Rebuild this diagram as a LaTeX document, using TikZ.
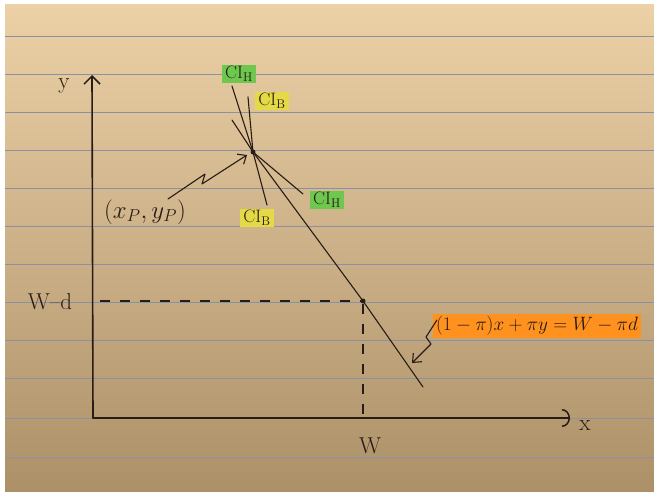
\documentclass[tikz,border=0pt]{standalone}
\usepackage{graphicx}
\usetikzlibrary{arrows.meta}
\definecolor{paperA}{RGB}{236,208,166}
\definecolor{paperB}{RGB}{172,144,104}
\definecolor{rulecol}{RGB}{138,146,162}
\definecolor{ink}{RGB}{40,28,22}
\definecolor{hlgreen}{RGB}{110,200,80}
\definecolor{hlyellow}{RGB}{228,218,72}
\definecolor{hlorange}{RGB}{255,145,30}
\tikzset{
  inkline/.style={draw=ink, line width=1.1pt, line cap=round, line join=round},
  axisline/.style={draw=ink, line width=1.6pt, line cap=round},
  hand/.style={text=ink, font=\fontsize{23}{26}\selectfont, inner sep=1pt},
  hlbox/.style={hand, font=\fontsize{18}{20}\selectfont, inner xsep=3pt, inner ysep=1.5pt},
  dot/.style={circle, fill=ink, inner sep=0pt, minimum size=5pt},
  barb/.style={-{Straight Barb[length=7pt,width=12pt,line width=1.1pt]}},
  dashline/.style={draw=ink, line width=1.1pt, dash pattern=on 10pt off 10pt},
}
\begin{document}
\begin{tikzpicture}[x=1pt,y=-1pt]
\useasboundingbox (0,0) rectangle (654,492);
\fill[white] (0,0) rectangle (654,492);
\shade[top color=paperA,bottom color=paperB] (5,5) rectangle (654,492);
\foreach \yy in {36,74,112,150,188,226,264,302,340,378,418,457}
  \draw[rulecol, line width=0.7pt] (5,\yy) -- (654,\yy);

% axes
\coordinate (O) at (93,418);
\coordinate (ytop) at (92,75);
\coordinate (xend) at (570,418);
\draw[axisline, -{Straight Barb[length=8pt,width=16pt,line width=1.5pt]}] (O) -- (ytop);
\draw[axisline, -{Arc Barb[length=8pt,width=18pt,line width=1.5pt]}] (O) -- (xend);
\node[hand] (ylab) at (64,86) {y};
\node[hand] (xlab) at (585,426) {x};

% points
\node[dot] (P) at (253,152) {};
\node[dot] (Q) at (363,301) {};
\coordinate (B1) at (232,120);
\coordinate (B2) at (423,387);
\draw[inkline] (B1) -- (P.center) -- (Q.center) -- (B2);

% dashed guides
\coordinate (Ld) at (100,301);
\coordinate (Wx) at (363,418);
\draw[dashline] (Ld) -- (Q);
\draw[dashline] (Q) -- (Wx);
\node[hand] (Wdlab) at (50,302) {W--d};
\node[hand] (Wlab) at (370,446) {W};

% indifference curves
\coordinate (H1) at (232,86);
\coordinate (H2) at (303,194);
\draw[inkline] (H1) -- (P.center) -- (H2);
\coordinate (Bu) at (248,97);
\coordinate (Bd) at (267,205);
\draw[inkline] (Bu) -- (P.center) -- (Bd);

% labels of curves
\node[hlbox, fill=hlgreen] (cih1) at (239,74) {CI\textsubscript{H}};
\node[hlbox, fill=hlyellow] (cib1) at (272,101) {CI\textsubscript{B}};
\node[hlbox, fill=hlyellow] (cib2) at (257,218) {CI\textsubscript{B}};
\node[hlbox, fill=hlgreen] (cih2) at (327,200) {CI\textsubscript{H}};

% point label and squiggle
\node[hand] (plab) at (145,212) {$(x_P,y_P)$};
\coordinate (s1) at (168,199);
\coordinate (s2) at (205,174);
\coordinate (s3) at (202,184);
\coordinate (s4) at (247,155);
\draw[inkline, barb] (s1) -- (s2) -- (s3) -- (s4);

% budget equation
\node[hand, font=\fontsize{20}{24}\selectfont, fill=hlorange, inner xsep=3pt, inner ysep=2pt] (eq) at (537,326) {\scalebox{0.93}{$(1-\pi)x+\pi y = W-\pi d$}};
\coordinate (e1) at (437,320);
\coordinate (e2) at (426,337);
\coordinate (e3) at (431,344);
\coordinate (e4) at (412,363);
\draw[inkline, barb] (e1) -- (e2) -- (e3) -- (e4);
\end{tikzpicture}
\end{document}
